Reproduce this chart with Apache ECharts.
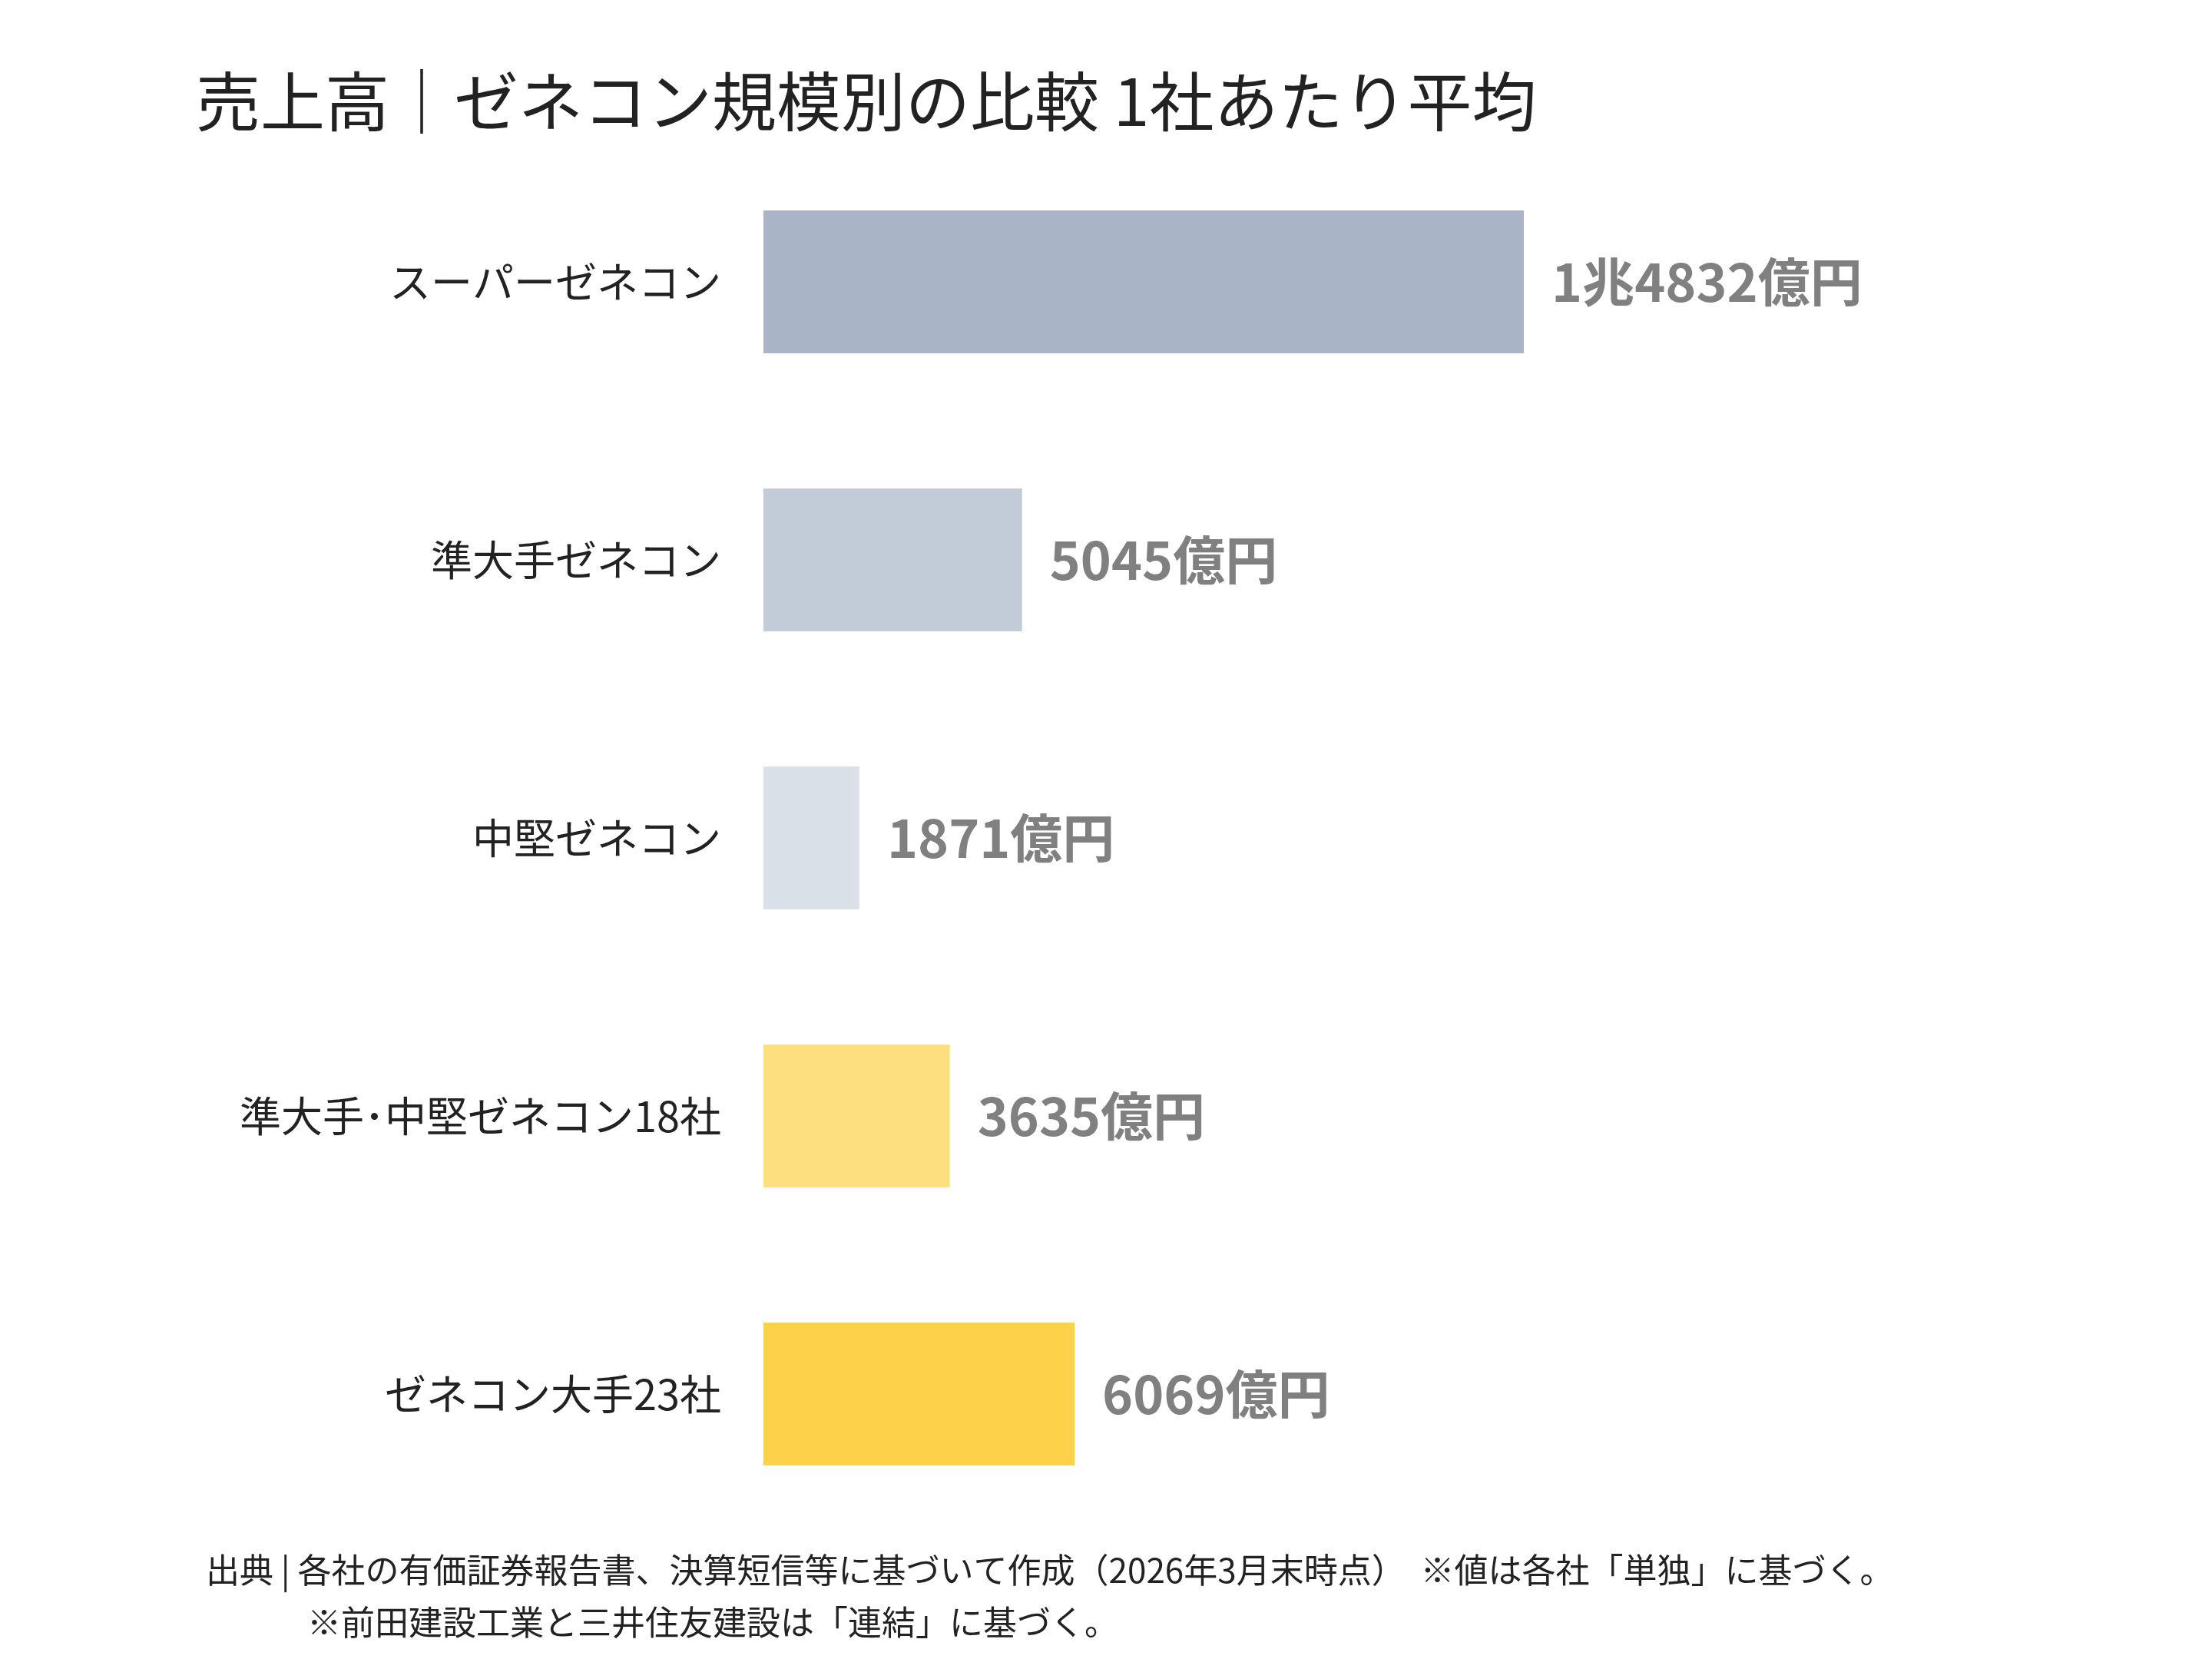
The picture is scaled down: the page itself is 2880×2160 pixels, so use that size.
<!DOCTYPE html>
<html><head><meta charset="utf-8">
<script src="https://cdn.jsdelivr.net/npm/echarts@6/dist/echarts.min.js"></script>
<style>html,body{margin:0;padding:0;background:#fff}#c{width:2880px;height:2160px}</style>
</head><body><div id="c"></div>
<script>
const categories = ["スーパーゼネコン","準大手ゼネコン","中堅ゼネコン","準大手･中堅ゼネコン18社","ゼネコン大手23社"];
const values = [14832, 5045, 1871, 3635, 6069];
const colors = ["#A9B5C6","#C2CCD8","#DAE0E8","#FEDF80","#FED14A"];
const titleText = "売上高｜ゼネコン規模別の比較 1社あたり平均";
const note1 = "出典 | 各社の有価証券報告書、決算短信等に基づいて作成（2026年3月末時点）  ※値は各社「単独」に基づく。";
const note2 = "※前田建設工業と三井住友建設は「連結」に基づく。";
function fmt(v){const c=Math.floor(v/10000),r=v%10000;return (c?c+"兆":"")+r+"億円";}
const F = "'Noto Sans CJK JP', sans-serif";
const chart = echarts.init(document.getElementById('c'));
chart.setOption({
  animation:false,
  title:{text:titleText,left:250,top:85,textStyle:{fontFamily:F,fontSize:84,fontWeight:'normal',color:'#222'}},
  grid:{left:994,right:551,top:186,bottom:164},
  xAxis:{type:'value',min:0,max:20000,show:false},
  yAxis:{type:'category',data:categories,inverse:true,axisLine:{show:false},axisTick:{show:false},
    axisLabel:{margin:55,fontFamily:F,fontSize:54,color:'#222'}},
  series:[{type:'bar',barWidth:186,
    data:values.map((v,i)=>({value:v,itemStyle:{color:colors[i]}})),
    label:{show:true,position:'right',distance:36,formatter:p=>fmt(p.value),
      fontFamily:F,fontSize:68,fontWeight:'bold',color:'#808080'}}],
  graphic:[
    {type:'text',left:268,top:2022,style:{text:note1,font:"44px 'Noto Sans CJK JP'",fill:'#222'}},
    {type:'text',left:400,top:2090,style:{text:note2,font:"44px 'Noto Sans CJK JP'",fill:'#222'}}
  ]
});
</script></body></html>
